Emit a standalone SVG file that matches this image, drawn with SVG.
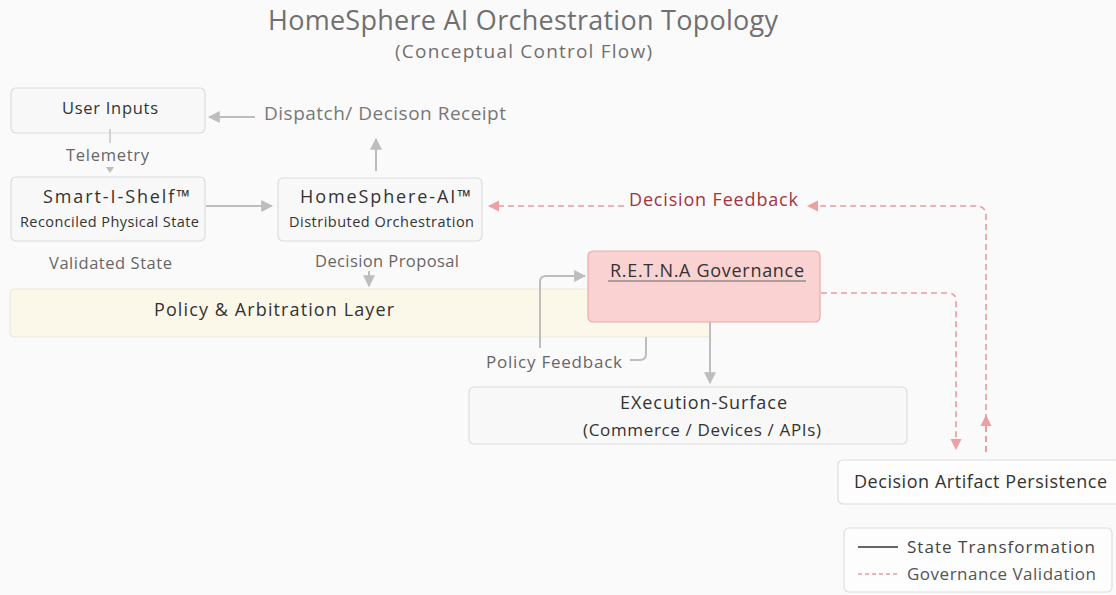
<svg xmlns="http://www.w3.org/2000/svg" width="1116" height="595" viewBox="0 0 1116 595">
  <style>
    text { font-family: "Open Sans", "Liberation Sans", sans-serif; }
    .title { fill: #707070; }
    .box { fill: #f8f8f9; stroke: #dcdcde; stroke-width: 1.2; }
    .lbl { fill: #333; }
    .edge-lbl { fill: #666; }
    .solid { fill: none; stroke: #bdbdbd; stroke-width: 2; }
    .dash { fill: none; stroke: #e99a9a; stroke-width: 1.6; stroke-dasharray: 6 4; }
  </style>
  <defs>
    <marker id="ah" viewBox="0 0 10 10" refX="9" refY="5" markerWidth="6" markerHeight="6" orient="auto">
      <path d="M0,0 L10,5 L0,10 z" fill="#bdbdbd"/>
    </marker>
    <marker id="ahr" viewBox="0 0 10 10" refX="9" refY="5" markerWidth="7" markerHeight="7" orient="auto">
      <path d="M0,0 L10,5 L0,10 z" fill="#eea0a0"/>
    </marker>
  </defs>

  <rect width="1116" height="595" fill="#fbfafb"/>

  <!-- heading -->
  <text class="title" x="268" y="30" font-size="27" textLength="510" lengthAdjust="spacing">HomeSphere AI Orchestration Topology</text>
  <text class="title" x="395" y="58" font-size="19" textLength="257" lengthAdjust="spacing">(Conceptual Control Flow)</text>

  <!-- policy band sits behind the governance node -->
  <g id="policy-layer">
    <rect x="10" y="289" width="700" height="48" rx="4" fill="#fcf8e9" stroke="#ece8d8" stroke-width="1"/>
    <text class="lbl" x="154" y="316" font-size="18" textLength="240" lengthAdjust="spacing">Policy &amp; Arbitration Layer</text>
  </g>

  <g id="connectors">
    <!-- shelf to orchestrator -->
    <line class="solid" x1="206" y1="206" x2="272" y2="206" marker-end="url(#ah)"/>
    <!-- orchestrator up to receipt -->
    <line class="solid" x1="376" y1="171" x2="376" y2="139" marker-end="url(#ah)"/>
    <!-- receipt back to user inputs -->
    <line class="solid" x1="255" y1="117" x2="209" y2="117" marker-end="url(#ah)"/>
    <!-- decision proposal -->
    <line class="solid" x1="369" y1="271" x2="369" y2="286" stroke-width="1.2" marker-end="url(#ah)"/>
    <!-- policy feedback loop -->
    <path class="solid" d="M646,337 L646,354 Q646,360 640,360 L630,360" stroke-width="1.6"/>
    <path class="solid" d="M540,348 L540,282 Q540,276 546,276 L585,276" stroke-width="1.6" marker-end="url(#ah)"/>
    <!-- governance to execution -->
    <line class="solid" x1="710" y1="322" x2="710" y2="383" stroke-width="1.6" marker-end="url(#ah)"/>
    <!-- governance to persistence -->
    <path class="dash" d="M821,293 L948,293 Q956,293 956,301 L956,449" marker-end="url(#ahr)"/>
    <!-- persistence back to orchestrator -->
    <path class="dash" d="M986,452 L986,420"/>
    <path class="dash" d="M986,452 L986,416" stroke="none" marker-end="url(#ahr)"/>
    <path class="dash" d="M986,420 L986,216 Q986,206 976,206 L808,206" marker-end="url(#ahr)"/>
    <line class="dash" x1="624" y1="206" x2="489" y2="206" marker-end="url(#ahr)"/>
    <text x="629" y="206" font-size="18" fill="#a3343f" textLength="169" lengthAdjust="spacing">Decision Feedback</text>
  </g>

  <g id="user-inputs">
    <rect class="box" x="11" y="88" width="194" height="45" rx="5"/>
    <text class="lbl" x="62" y="114" font-size="16.5" textLength="96" lengthAdjust="spacing">User Inputs</text>
  </g>

  <!-- telemetry link drawn over the box edge -->
  <line x1="110" y1="129" x2="110" y2="143" stroke="#c4c4c4" stroke-width="1.5"/>
  <path d="M106,167 L114,167 L110,173 z" fill="#bdbdbd"/>

  <g id="dispatch-receipt">
    <text x="264" y="120" font-size="19" fill="#777" textLength="242" lengthAdjust="spacing">Dispatch/ Decison Receipt</text>
  </g>

  <text class="edge-lbl" x="66" y="161" font-size="16.5" textLength="83" lengthAdjust="spacing">Telemetry</text>

  <g id="smart-shelf">
    <rect class="box" x="11" y="177" width="194" height="64" rx="5"/>
    <text class="lbl" x="43" y="203" font-size="18" textLength="147" lengthAdjust="spacing">Smart-I-Shelf™</text>
    <text class="lbl" x="20" y="227" font-size="14.5" textLength="179" lengthAdjust="spacing">Reconciled Physical State</text>
  </g>

  <g id="homesphere-ai">
    <rect class="box" x="278" y="178" width="204" height="63" rx="5"/>
    <text class="lbl" x="300" y="203" font-size="18" textLength="171" lengthAdjust="spacing">HomeSphere-AI™</text>
    <text class="lbl" x="289" y="227" font-size="14.5" textLength="185" lengthAdjust="spacing">Distributed Orchestration</text>
  </g>

  <text class="edge-lbl" x="49" y="269" font-size="16.5" textLength="123" lengthAdjust="spacing">Validated State</text>
  <text class="edge-lbl" x="315" y="267" font-size="16.5" textLength="144" lengthAdjust="spacing">Decision Proposal</text>

  <g id="retna-governance">
    <rect x="588" y="251" width="232" height="71" rx="5" fill="#f9d2d1" stroke="#eba9a8" stroke-width="1.2"/>
    <text class="lbl" x="610" y="277" font-size="18" textLength="194" lengthAdjust="spacing">R.E.T.N.A Governance</text>
    <line x1="608" y1="281" x2="806" y2="281" stroke="#666" stroke-width="1.2"/>
  </g>

  <text class="edge-lbl" x="486" y="368" font-size="17" textLength="136" lengthAdjust="spacing">Policy Feedback</text>

  <g id="execution-surface">
    <rect class="box" x="469" y="387" width="438" height="57" rx="5"/>
    <text class="lbl" x="620" y="409" font-size="18" textLength="167" lengthAdjust="spacing">EXecution-Surface</text>
    <text class="lbl" x="583" y="436" font-size="17" textLength="238" lengthAdjust="spacing">(Commerce / Devices / APIs)</text>
  </g>

  <g id="artifact-persistence">
    <rect x="838" y="460" width="282" height="44" rx="5" fill="#fdfdfd" stroke="#dedede" stroke-width="1.2"/>
    <text class="lbl" x="854" y="488" font-size="18" textLength="253" lengthAdjust="spacing">Decision Artifact Persistence</text>
  </g>

  <g id="legend">
    <rect x="844" y="528" width="268" height="64" rx="5" fill="#fdfdfd" stroke="#dedede" stroke-width="1.2"/>
    <line x1="858" y1="547" x2="898" y2="547" stroke="#666" stroke-width="2"/>
    <text x="907" y="553" font-size="17" fill="#444" textLength="188" lengthAdjust="spacing">State Transformation</text>
    <line x1="858" y1="574" x2="898" y2="574" stroke="#e99a9a" stroke-width="1.4" stroke-dasharray="4 3"/>
    <text x="907" y="580" font-size="17" fill="#555" textLength="189" lengthAdjust="spacing">Governance Validation</text>
  </g>
</svg>
